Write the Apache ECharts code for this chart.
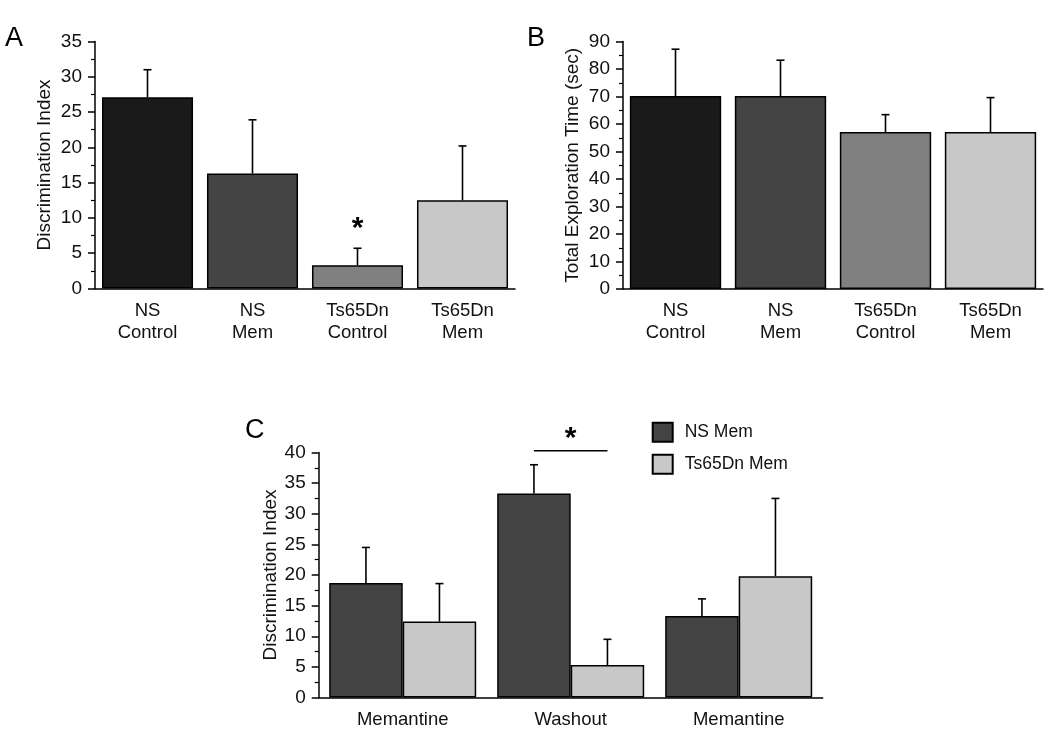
<!DOCTYPE html>
<html>
<head>
<meta charset="utf-8">
<script src="https://cdn.jsdelivr.net/npm/echarts@6/dist/echarts.min.js"></script>
<style>
  html, body { margin: 0; padding: 0; background: #fff; }
  #main { width: 1050px; height: 741px; }
</style>
</head>
<body>
<div id="main"></div>
<script>
// categories
var catsAB = ['NS\nControl', 'NS\nMem', 'Ts65Dn\nControl', 'Ts65Dn\nMem'];
var catsC = ['Memantine', 'Washout', 'Memantine'];

// panel A: discrimination index (mean, sem)
var discA = [27.1, 16.3, 3.3, 12.5];
var discSemA = [3.9, 7.6, 2.4, 7.7];

// panel B: total exploration time (sec)
var timeB = [70.2, 70.2, 57.1, 57.1];
var timeSemB = [17.0, 13.0, 6.3, 12.5];

// panel C: discrimination index by phase
var nsMemC = [18.7, 33.3, 13.3];
var nsMemSemC = [5.8, 4.7, 2.8];
var tsMemC = [12.4, 5.3, 19.8];
var tsMemSemC = [6.2, 4.2, 12.7];

var barColors = ['#1a1a1a', '#444444', '#808080', '#c8c8c8'];
var FONT = 'Liberation Sans, Arial, sans-serif';

var myChart = echarts.init(document.getElementById('main'));

function errData(vals, sems) {
  return vals.map(function (v, i) { return [i, v, v + sems[i]]; });
}

// error bar drawn from the bar top upward; idx/n = position of bar inside group
function errRender(idx, n, gap) {
  return function (params, api) {
    var band = api.size([1, 0])[0];
    var groupW = band * (1 - gap);
    var off = -groupW / 2 + (idx + 0.5) * groupW / n;
    var base = api.coord([api.value(0), api.value(1)]);
    var top = api.coord([api.value(0), api.value(2)]);
    var x = base[0] + off;
    var st = { stroke: '#000', lineWidth: 1.6 };
    return {
      type: 'group',
      children: [
        { type: 'line', shape: { x1: x, y1: base[1], x2: x, y2: top[1] }, style: st },
        { type: 'line', shape: { x1: x - 4, y1: top[1], x2: x + 4, y2: top[1] }, style: st }
      ]
    };
  };
}

function yAx(grid, max, interval, name, gap) {
  return {
    gridIndex: grid, type: 'value', min: 0, max: max, interval: interval,
    name: name, nameLocation: 'middle', nameGap: gap,
    nameTextStyle: { fontFamily: FONT, fontSize: 19, color: '#111' },
    axisLine: { show: true, lineStyle: { color: '#000', width: 1.5 } },
    axisTick: { show: true, length: 7, lineStyle: { color: '#000', width: 1.5 } },
    minorTick: { show: true, splitNumber: 2, length: 4, lineStyle: { color: '#000', width: 1.2 } },
    axisLabel: { fontFamily: FONT, fontSize: 19, color: '#111', margin: 13 },
    splitLine: { show: false }
  };
}

function xAx(grid, data) {
  return {
    gridIndex: grid, type: 'category', data: data,
    axisLine: { lineStyle: { color: '#000', width: 1.5 } },
    axisTick: { alignWithLabel: true, length: 6, lineStyle: { color: '#000', width: 1.5 } },
    axisLabel: { fontFamily: FONT, fontSize: 18.5, color: '#111', margin: 11, lineHeight: 22, interval: 0 }
  };
}

var option = {
  backgroundColor: '#fff',
  animation: false,
  grid: [
    { left: 95, top: 41.5, width: 420, height: 247 },
    { left: 623, top: 41.5, width: 420, height: 247.5 },
    { left: 318.7, top: 452.5, width: 504, height: 245 }
  ],
  xAxis: [xAx(0, catsAB), xAx(1, catsAB), xAx(2, catsC)],
  yAxis: [
    yAx(0, 35, 5, 'Discrimination Index', 41),
    yAx(1, 90, 10, 'Total Exploration Time (sec)', 41),
    yAx(2, 40, 5, 'Discrimination Index', 36)
  ],
  legend: {
    data: ['NS Mem', 'Ts65Dn Mem'],
    orient: 'vertical', left: 646.7, top: 416.7,
    itemWidth: 20, itemHeight: 19, itemGap: 11,
    icon: 'rect',
    textStyle: { fontFamily: FONT, fontSize: 17.5, color: '#111', padding: [0, 0, 0, 7] }
  },
  graphic: [
    { type: 'text', left: 5, top: 25, style: { text: 'A', font: '27px ' + FONT, fill: '#000' } },
    { type: 'text', left: 527, top: 25, style: { text: 'B', font: '27px ' + FONT, fill: '#000' } },
    { type: 'text', left: 245, top: 417, style: { text: 'C', font: '27px ' + FONT, fill: '#000' } }
  ],
  series: [
    {
      name: 'A', type: 'bar', xAxisIndex: 0, yAxisIndex: 0, barCategoryGap: '13.3%',
      data: discA.map(function (v, i) { return { value: v, itemStyle: { color: barColors[i] } }; }),
      itemStyle: { borderColor: '#000', borderWidth: 1.5 }
    },
    {
      type: 'custom', xAxisIndex: 0, yAxisIndex: 0, z: 5,
      renderItem: errRender(0, 1, 0.133), data: errData(discA, discSemA)
    },
    {
      // significance star over Ts65Dn Control
      type: 'custom', xAxisIndex: 0, yAxisIndex: 0, z: 5,
      renderItem: function (params, api) {
        var p = api.coord([api.value(0), api.value(1)]);
        return { type: 'text', x: p[0], y: p[1], style: { text: '*', font: 'bold 30px ' + FONT, fill: '#000', align: 'center', verticalAlign: 'middle' } };
      },
      data: [[2, 8.4]]
    },
    {
      name: 'B', type: 'bar', xAxisIndex: 1, yAxisIndex: 1, barCategoryGap: '13%',
      data: timeB.map(function (v, i) { return { value: v, itemStyle: { color: barColors[i] } }; }),
      itemStyle: { borderColor: '#000', borderWidth: 1.5 }
    },
    {
      type: 'custom', xAxisIndex: 1, yAxisIndex: 1, z: 5,
      renderItem: errRender(0, 1, 0.13), data: errData(timeB, timeSemB)
    },
    {
      name: 'NS Mem', type: 'bar', xAxisIndex: 2, yAxisIndex: 2,
      barCategoryGap: '12.5%', barGap: '0%', data: nsMemC,
      itemStyle: { color: '#444444', borderColor: '#000', borderWidth: 1.5 }
    },
    {
      name: 'Ts65Dn Mem', type: 'bar', xAxisIndex: 2, yAxisIndex: 2,
      barCategoryGap: '12.5%', barGap: '0%', data: tsMemC,
      itemStyle: { color: '#c8c8c8', borderColor: '#000', borderWidth: 1.5 }
    },
    {
      type: 'custom', xAxisIndex: 2, yAxisIndex: 2, z: 5,
      renderItem: errRender(0, 2, 0.125), data: errData(nsMemC, nsMemSemC)
    },
    {
      type: 'custom', xAxisIndex: 2, yAxisIndex: 2, z: 5,
      renderItem: errRender(1, 2, 0.125), data: errData(tsMemC, tsMemSemC)
    },
    {
      // significance bracket over Washout
      type: 'custom', xAxisIndex: 2, yAxisIndex: 2, z: 5,
      renderItem: function (params, api) {
        var band = api.size([1, 0])[0];
        var half = band * (1 - 0.125) / 4;
        var p = api.coord([api.value(0), api.value(1)]);
        var s = api.coord([api.value(0), api.value(2)]);
        return {
          type: 'group',
          children: [
            { type: 'line', shape: { x1: p[0] - half, y1: p[1], x2: p[0] + half, y2: p[1] }, style: { stroke: '#000', lineWidth: 1.5 } },
            { type: 'text', x: s[0], y: s[1], style: { text: '*', font: 'bold 30px ' + FONT, fill: '#000', align: 'center', verticalAlign: 'middle' } }
          ]
        };
      },
      data: [[1, 40.3, 42.3]]
    }
  ]
};

myChart.setOption(option);
</script>
</body>
</html>
